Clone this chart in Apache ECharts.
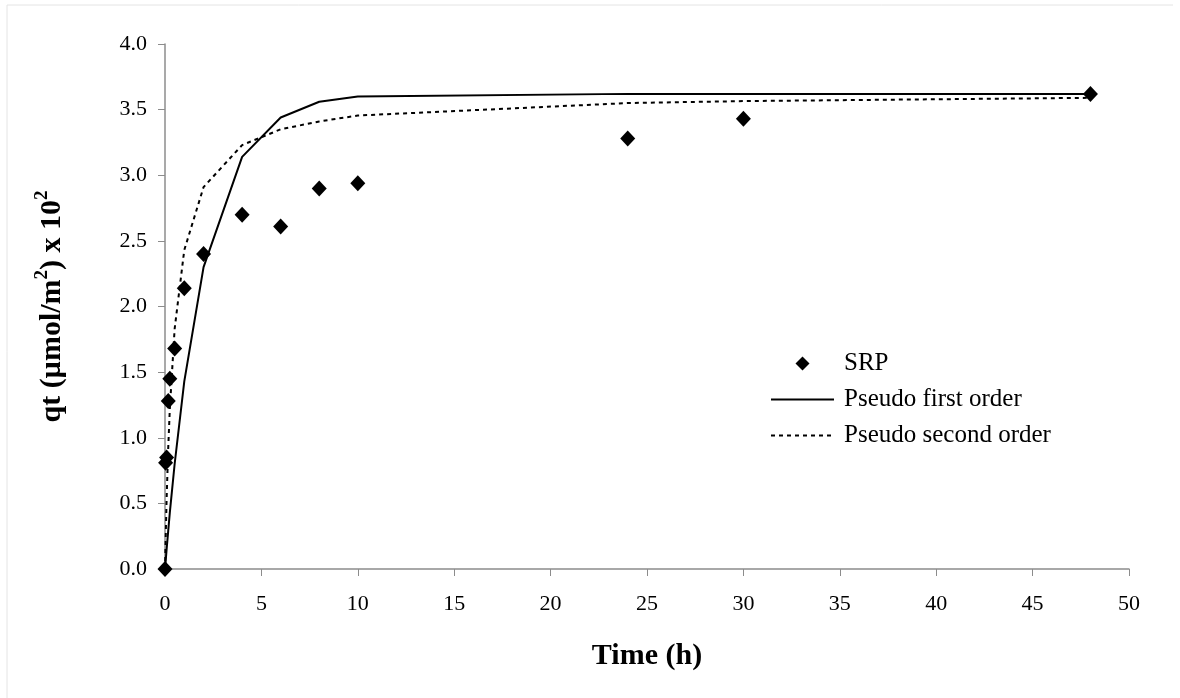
<!DOCTYPE html>
<html><head><meta charset="utf-8">
<script src="https://cdn.jsdelivr.net/npm/echarts@6/dist/echarts.min.js"></script>
<style>html,body{margin:0;padding:0;background:#fff}#c{width:1180px;height:698px}</style>
</head><body><div id="c"></div>
<script>
var times = [0, 0.03, 0.083, 0.167, 0.25, 0.5, 1, 2, 4, 6, 8, 10, 24, 30, 48];
var srp = [0, 0.81, 0.85, 1.28, 1.45, 1.68, 2.14, 2.40, 2.70, 2.61, 2.90, 2.94, 3.28, 3.43, 3.62];
var pfo = [0, 0.05, 0.15, 0.29, 0.43, 0.80, 1.43, 2.30, 3.14, 3.44, 3.56, 3.60, 3.62, 3.62, 3.62];
var pso = [0, 0.20, 0.53, 0.92, 1.22, 1.83, 2.43, 2.91, 3.23, 3.35, 3.41, 3.455, 3.55, 3.565, 3.59];
var xTicks = [0, 5, 10, 15, 20, 25, 30, 35, 40, 45, 50];
var yTicks = [0, 0.5, 1, 1.5, 2, 2.5, 3, 3.5, 4];

function pairs(xs, ys){ return xs.map(function(x,i){ return [x, ys[i]]; }); }

var chart = echarts.init(document.getElementById('c'), null, {renderer:'canvas'});
var serif = '"Liberation Serif","Times New Roman",serif';
chart.setOption({
  animation:false,
  backgroundColor:'#fff',
  textStyle:{fontFamily:serif},
  grid:{left:165, right:51, top:44, bottom:129, containLabel:false},
  graphic:[
    {type:'line', shape:{x1:7,y1:5,x2:1173,y2:5}, style:{stroke:'#e4e4e4', lineWidth:1}},
    {type:'line', shape:{x1:7,y1:5,x2:7,y2:698}, style:{stroke:'#e4e4e4', lineWidth:1}}
  ],
  xAxis:{
    type:'value', min:xTicks[0], max:xTicks[xTicks.length-1], interval:5,
    name:'Time (h)', nameLocation:'middle', nameGap:72,
    nameTextStyle:{fontFamily:serif, fontSize:30, fontWeight:'bold', color:'#000'},
    axisLine:{lineStyle:{color:'#8c8c8c', width:1.5}},
    axisTick:{show:true, length:7, inside:false, lineStyle:{color:'#8c8c8c'}},
    axisLabel:{fontFamily:serif, fontSize:22, color:'#000', margin:24},
    splitLine:{show:false}
  },
  yAxis:{
    type:'value', min:yTicks[0], max:yTicks[yTicks.length-1], interval:0.5,
    name:'{a|qt (µmol/m}{s|2}{a|) x 10}{s|2}', nameLocation:'middle', nameGap:98, nameRotate:90,
    nameTextStyle:{fontFamily:serif, fontSize:30, fontWeight:'bold', color:'#000',
      rich:{
        a:{fontFamily:serif, fontSize:30, fontWeight:'bold', color:'#000', lineHeight:34, verticalAlign:'bottom'},
        s:{fontFamily:serif, fontSize:19, fontWeight:'bold', color:'#000', lineHeight:34, verticalAlign:'top'}
      }},
    axisLine:{show:true, lineStyle:{color:'#8c8c8c', width:1.5}},
    axisTick:{show:true, length:7, inside:false, lineStyle:{color:'#8c8c8c'}},
    axisLabel:{fontFamily:serif, fontSize:22, color:'#000', margin:18,
      formatter:function(v){ return v.toFixed(1); }},
    splitLine:{show:false}
  },
  legend:{
    orient:'vertical', left:765, top:346, itemWidth:63, itemHeight:14, itemGap:11,
    textStyle:{fontFamily:serif, fontSize:25, color:'#000', padding:[0,0,0,5]},
    data:[
      {name:'SRP', icon:'path://M0,-1L1,0L0,1L-1,0Z', itemStyle:{color:'#000', opacity:1}},
      {name:'Pseudo first order', itemStyle:{opacity:0}},
      {name:'Pseudo second order', itemStyle:{opacity:0}}
    ]
  },
  series:[
    {name:'Pseudo first order', type:'line', data:pairs(times, pfo), symbol:'none', showSymbol:false,
     lineStyle:{color:'#000', width:2, type:'solid'}, itemStyle:{color:'#000'}, z:2},
    {name:'Pseudo second order', type:'line', data:pairs(times, pso), symbol:'none', showSymbol:false,
     lineStyle:{color:'#000', width:2, type:[4,4]}, itemStyle:{color:'#000'}, z:2},
    {name:'SRP', type:'scatter', data:pairs(times, srp), symbol:'diamond', symbolSize:[15,16],
     itemStyle:{color:'#000', opacity:1}, z:3}
  ]
});
</script></body></html>
